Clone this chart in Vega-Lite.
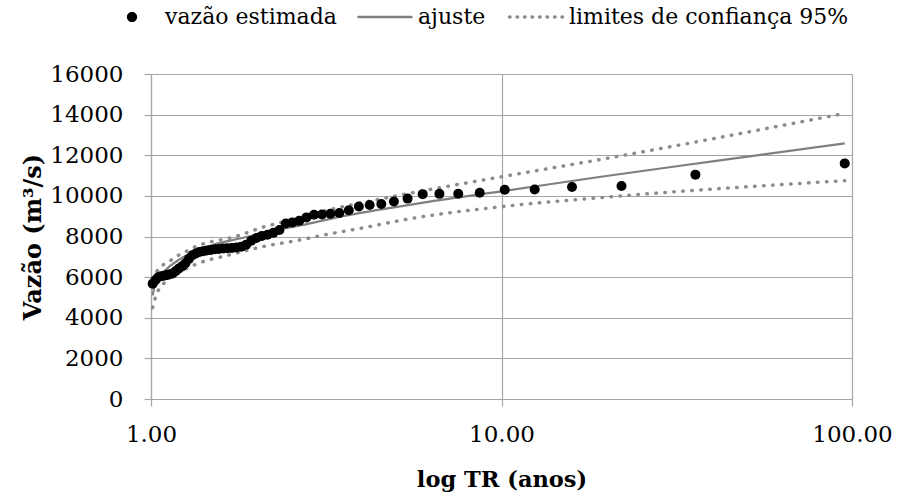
{
  "$schema": "https://vega.github.io/schema/vega-lite/v6.json",
  "autosize": {"type": "none"},
  "width": 701,
  "height": 325,
  "padding": {"left": 151, "top": 74, "right": 48, "bottom": 94},
  "background": "white",
  "config": {
    "font": "DejaVu Serif",
    "view": {"stroke": null},
    "axis": {
      "labelFont": "DejaVu Serif",
      "labelFontSize": 23,
      "labelColor": "black",
      "titleFont": "DejaVu Serif",
      "titleFontSize": 22.5,
      "titleFontWeight": "bold",
      "titleColor": "black",
      "gridColor": "#a6a6a6",
      "gridWidth": 1.2,
      "domainColor": "#a6a6a6",
      "domainWidth": 1.2,
      "tickColor": "#a6a6a6",
      "tickWidth": 1.2,
      "tickSize": 7
    }
  },
  "datasets": {
    "obs": [
      {"tr": 95.333, "q": 11600}, {"tr": 35.75, "q": 11045}, {"tr": 22.0, "q": 10490},
      {"tr": 15.889, "q": 10440}, {"tr": 12.435, "q": 10310}, {"tr": 10.214, "q": 10300},
      {"tr": 8.667, "q": 10150}, {"tr": 7.526, "q": 10105}, {"tr": 6.651, "q": 10100},
      {"tr": 5.958, "q": 10085}, {"tr": 5.396, "q": 9865}, {"tr": 4.931, "q": 9720},
      {"tr": 4.540, "q": 9600}, {"tr": 4.206, "q": 9550}, {"tr": 3.918, "q": 9480},
      {"tr": 3.667, "q": 9290}, {"tr": 3.446, "q": 9160}, {"tr": 3.250, "q": 9120},
      {"tr": 3.075, "q": 9085}, {"tr": 2.918, "q": 9075}, {"tr": 2.777, "q": 8940},
      {"tr": 2.648, "q": 8770}, {"tr": 2.531, "q": 8690}, {"tr": 2.424, "q": 8640},
      {"tr": 2.325, "q": 8320}, {"tr": 2.234, "q": 8180}, {"tr": 2.150, "q": 8090},
      {"tr": 2.072, "q": 8030}, {"tr": 2.000, "q": 7930}, {"tr": 1.932, "q": 7790},
      {"tr": 1.869, "q": 7600}, {"tr": 1.810, "q": 7500}, {"tr": 1.755, "q": 7460},
      {"tr": 1.702, "q": 7440}, {"tr": 1.653, "q": 7425}, {"tr": 1.607, "q": 7410},
      {"tr": 1.563, "q": 7390}, {"tr": 1.521, "q": 7370}, {"tr": 1.482, "q": 7340},
      {"tr": 1.444, "q": 7310}, {"tr": 1.409, "q": 7280}, {"tr": 1.375, "q": 7240},
      {"tr": 1.343, "q": 7160}, {"tr": 1.312, "q": 7080}, {"tr": 1.283, "q": 6900},
      {"tr": 1.254, "q": 6680}, {"tr": 1.228, "q": 6540}, {"tr": 1.202, "q": 6430},
      {"tr": 1.177, "q": 6300}, {"tr": 1.153, "q": 6180}, {"tr": 1.130, "q": 6140},
      {"tr": 1.109, "q": 6100}, {"tr": 1.088, "q": 6070}, {"tr": 1.067, "q": 6040},
      {"tr": 1.048, "q": 5990}, {"tr": 1.029, "q": 5850}, {"tr": 1.011, "q": 5680}
    ],
    "fit": [
      {"tr": 1.011, "q": 5100}, {"tr": 1.02, "q": 5450}, {"tr": 1.05, "q": 5950},
      {"tr": 1.1, "q": 6350}, {"tr": 1.2, "q": 6850}, {"tr": 1.35, "q": 7300},
      {"tr": 1.5, "q": 7580}, {"tr": 1.79, "q": 7900}, {"tr": 2.2, "q": 8260},
      {"tr": 2.71, "q": 8570}, {"tr": 3.5, "q": 8990}, {"tr": 4.5, "q": 9320},
      {"tr": 6.24, "q": 9720}, {"tr": 10, "q": 10224}, {"tr": 19, "q": 10930},
      {"tr": 40, "q": 11700}, {"tr": 95.3, "q": 12585}
    ],
    "ci": [
      {"tr": 1.011, "q": 5900, "b": "sup"}, {"tr": 1.05, "q": 6400, "b": "sup"},
      {"tr": 1.118, "q": 6730, "b": "sup"}, {"tr": 1.194, "q": 7060, "b": "sup"},
      {"tr": 1.274, "q": 7306, "b": "sup"}, {"tr": 1.361, "q": 7552, "b": "sup"},
      {"tr": 1.491, "q": 7749, "b": "sup"}, {"tr": 1.657, "q": 7900, "b": "sup"},
      {"tr": 1.853, "q": 8150, "b": "sup"}, {"tr": 2.076, "q": 8450, "b": "sup"},
      {"tr": 2.30, "q": 8650, "b": "sup"}, {"tr": 3.2, "q": 9300, "b": "sup"},
      {"tr": 5.12, "q": 10030, "b": "sup"}, {"tr": 10, "q": 10940, "b": "sup"},
      {"tr": 19, "q": 11780, "b": "sup"}, {"tr": 95.3, "q": 14060, "b": "sup"},
      {"tr": 1.011, "q": 4500, "b": "inf"}, {"tr": 1.015, "q": 4600, "b": "inf"},
      {"tr": 1.027, "q": 4930, "b": "inf"}, {"tr": 1.049, "q": 5340, "b": "inf"},
      {"tr": 1.096, "q": 5750, "b": "inf"}, {"tr": 1.209, "q": 6250, "b": "inf"},
      {"tr": 1.352, "q": 6652, "b": "inf"}, {"tr": 1.679, "q": 7100, "b": "inf"},
      {"tr": 2.085, "q": 7500, "b": "inf"}, {"tr": 2.606, "q": 7800, "b": "inf"},
      {"tr": 3.236, "q": 8128, "b": "inf"}, {"tr": 4.017, "q": 8423, "b": "inf"},
      {"tr": 5.57, "q": 8895, "b": "inf"}, {"tr": 10, "q": 9470, "b": "inf"},
      {"tr": 19.6, "q": 9930, "b": "inf"}, {"tr": 95.3, "q": 10750, "b": "inf"}
    ]
  },
  "encoding": {
    "x": {
      "field": "tr", "type": "quantitative",
      "scale": {"type": "log", "domain": [1, 100], "nice": false},
      "axis": {"values": [1, 10, 100], "format": ".2f", "title": "log TR (anos)", "labelFlush": false, "labelPadding": 17, "titlePadding": 22, "grid": true}
    },
    "y": {
      "field": "q", "type": "quantitative",
      "scale": {"domain": [0, 16000], "nice": false},
      "axis": {"values": [0, 2000, 4000, 6000, 8000, 10000, 12000, 14000, 16000], "format": "d", "title": "Vazão (m³/s)", "titleFontSize": 24, "labelFlush": false, "labelPadding": 21, "titlePadding": 4, "grid": true}
    },
    "color": {
      "scale": {
        "domain": ["vazão estimada", "ajuste", "limites de confiança 95%"],
        "range": ["black", "#7f7f7f", "#8c8c8c"]
      },
      "legend": {
        "orient": "none",
        "legendX": -30,
        "legendY": -68,
        "direction": "horizontal",
        "title": null,
        "labelFont": "DejaVu Serif",
        "labelFontSize": 22,
        "labelColor": "black",
        "labelLimit": 0,
        "symbolSize": 3000,
        "labelOffset": 22,
        "columnPadding": 16,
        "encode": {
          "symbols": {
            "update": {
              "shape": {"signal": "datum.value === 'vazão estimada' ? 'circle' : 'stroke'"},
              "size": {"signal": "datum.value === 'vazão estimada' ? 60 : 2800"},
              "strokeDash": {"signal": "datum.value === 'limites de confiança 95%' ? [0.5, 7] : [1, 0]"},
              "strokeCap": {"value": "round"},
              "fill": {"signal": "datum.value === 'vazão estimada' ? 'black' : 'transparent'"},
              "stroke": {"signal": "datum.value === 'vazão estimada' ? 'transparent' : '#7f7f7f'"},
              "strokeWidth": {"signal": "datum.value === 'limites de confiança 95%' ? 3.5 : 2.5"},
              "opacity": {"value": 1}
            }
          }
        }
      }
    }
  },
  "layer": [
    {
      "data": {"name": "ci"},
      "mark": {"type": "line", "strokeWidth": 3.5, "strokeDash": [0.5, 8.5], "strokeCap": "round", "interpolate": "monotone"},
      "encoding": {"detail": {"field": "b"}, "color": {"datum": "limites de confiança 95%"}}
    },
    {
      "data": {"name": "fit"},
      "mark": {"type": "line", "strokeWidth": 2.2, "interpolate": "monotone"},
      "encoding": {"color": {"datum": "ajuste"}}
    },
    {
      "data": {"name": "obs"},
      "mark": {"type": "circle", "size": 100, "opacity": 1},
      "encoding": {"color": {"datum": "vazão estimada"}}
    }
  ]
}
